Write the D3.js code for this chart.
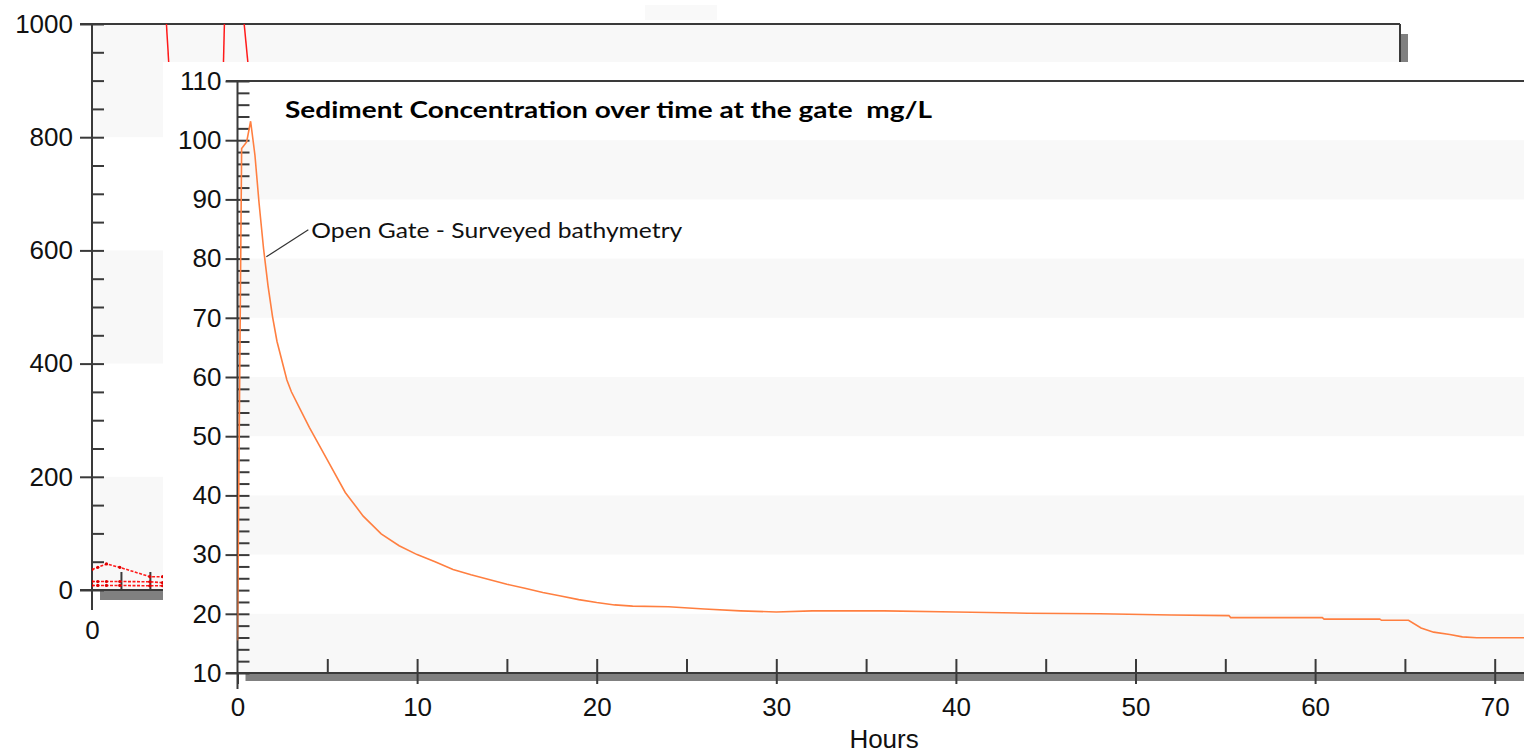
<!DOCTYPE html>
<html>
<head>
<meta charset="utf-8">
<script src="https://cdn.jsdelivr.net/npm/d3@7"></script>
<style>
  body { margin: 0; background: #fff; }
  svg { display: block; }
  .axis-label { font-family: "Liberation Sans", Arial, sans-serif; font-size: 26px; fill: #111; }
  .title { font-family: Lato, "Open Sans", sans-serif; font-weight: bold; font-size: 23px; fill: #000; white-space: pre; }
</style>
</head>
<body>
<div id="chart"></div>
<script>
// front chart: sediment concentration at the gate (mg/L)
const hours = [0, 0.23, 0.51, 0.73, 0.97, 1.2, 1.45, 1.7, 1.95, 2.2, 2.75, 3, 3.5, 4, 5, 6, 7, 8, 9, 10,
  11, 12, 13, 14, 15, 16, 17, 18, 19, 20, 21, 22, 24, 26, 28, 30, 32, 36, 40, 44, 48, 52,
  55.2, 55.3, 60.4, 60.5, 63.6, 63.7, 65.2, 65.9, 66.6, 67.5, 68.2, 69, 72];
const concentration = [15.5, 98.6, 99.7, 103.2, 97.5, 89.4, 81.7, 75.4, 70.2, 66, 59.5, 57.5, 54.5, 51.5, 46, 40.5, 36.5, 33.5, 31.5, 30,
  28.8, 27.5, 26.6, 25.8, 25, 24.3, 23.6, 23, 22.4, 21.9, 21.5, 21.3, 21.2, 20.8, 20.5, 20.3, 20.5, 20.5, 20.3, 20.1, 20.0, 19.8,
  19.7, 19.35, 19.35, 19.1, 19.1, 18.9, 18.9, 17.6, 16.9, 16.5, 16.1, 15.95, 15.95];
const frontYTicks = [10, 20, 30, 40, 50, 60, 70, 80, 90, 100, 110];
const frontXTicks = [0, 10, 20, 30, 40, 50, 60, 70];
const frontBands = [[10, 20], [30, 40], [50, 60], [70, 80], [90, 100]];
const seriesName = "Open Gate - Surveyed bathymetry";
const labelAnchor = [1.55, 80.3];
const titleText = "Sediment Concentration over time at the gate  mg/L";

// background chart (mostly hidden behind the front one)
const bgYTicks = [0, 200, 400, 600, 800, 1000];
const bgXTicks = [0];
const bgBands = [[0, 200], [400, 600], [800, 1000]];
const bgLowHours = [0, 1, 2.5, 4.8, 10, 12.2];
const bgLowUpper = [36, 40, 46, 40, 23.5, 23.5];
const bgLowMiddle = [15, 15, 15, 15, 14.5, 13];
const bgLowBottom = [8, 8, 8, 8, 7.5, 7.5];
const bgSpikes = [
  { hours: [12.8, 13.3], values: [1010, 925] },
  { hours: [22.9, 22.7], values: [1010, 925] },
  { hours: [26.2, 27.0], values: [1010, 925] }
];

const width = 1524, height = 754;
const axisColor = "#3a3a3a", bandColor = "#f8f8f8", shadowColor = "#808080";

const svg = d3.select("#chart").append("svg")
  .attr("width", width).attr("height", height);

function styleLabels(g) {
  g.selectAll("text").attr("class", "axis-label")
    .attr("font-size", null).attr("font-family", null).attr("fill", null);
}

// ---------- background chart ----------
const bg = svg.append("g").attr("class", "background-chart");
const xB = d3.scaleLinear().domain([0, 226]).range([92, 1400]);
const yB = d3.scaleLinear().domain([0, 1000]).range([590, 24]);

bg.append("rect").attr("x", 645).attr("y", 5).attr("width", 72).attr("height", 15).attr("fill", "#f9f9f9");

bg.selectAll(".bg-band").data(bgBands).join("rect")
  .attr("class", "bg-band")
  .attr("x", xB(0)).attr("width", xB.range()[1] - xB(0))
  .attr("y", d => yB(d[1])).attr("height", d => yB(d[0]) - yB(d[1]))
  .attr("fill", bandColor);

// shadows
bg.append("rect").attr("x", xB.range()[1]).attr("y", yB(1000) + 10).attr("width", 8).attr("height", 560).attr("fill", shadowColor);
bg.append("rect").attr("x", xB(0) + 8).attr("y", yB(0)).attr("width", 1300).attr("height", 10).attr("fill", shadowColor);

// frame
bg.append("line").attr("x1", 80).attr("x2", xB.range()[1]).attr("y1", yB(1000)).attr("y2", yB(1000))
  .attr("stroke", axisColor).attr("stroke-width", 2);
bg.append("line").attr("x1", xB.range()[1]).attr("x2", xB.range()[1]).attr("y1", yB(1000)).attr("y2", yB(0))
  .attr("stroke", axisColor).attr("stroke-width", 2);
bg.append("line").attr("x1", 80).attr("x2", xB.range()[1]).attr("y1", yB(0)).attr("y2", yB(0))
  .attr("stroke", axisColor).attr("stroke-width", 2);
bg.append("line").attr("x1", xB(0)).attr("x2", xB(0)).attr("y1", yB(1000)).attr("y2", yB(0) + 20)
  .attr("stroke", axisColor).attr("stroke-width", 2);

// y axis, minor + major
bg.append("g").attr("transform", `translate(${xB(0)},0)`)
  .call(d3.axisRight(yB).tickValues(d3.range(0, 1001, 50)).tickSize(12).tickFormat(""))
  .call(g => g.select(".domain").remove())
  .call(g => g.selectAll("line").attr("stroke", axisColor).attr("stroke-width", 2));
bg.append("g").attr("transform", `translate(${xB(0)},0)`)
  .call(d3.axisLeft(yB).tickValues(bgYTicks).tickSize(12).tickPadding(7).tickFormat(d3.format("d")))
  .call(g => g.select(".domain").remove())
  .call(g => g.selectAll("line").attr("stroke", axisColor).attr("stroke-width", 2))
  .call(styleLabels);

// x axis
bg.append("g").attr("transform", `translate(0,${yB(0)})`)
  .call(d3.axisTop(xB).tickValues(d3.range(5, 226, 5)).tickSize(18).tickFormat(""))
  .call(g => g.select(".domain").remove())
  .call(g => g.selectAll("line").attr("stroke", axisColor).attr("stroke-width", 2));
bg.append("g").attr("transform", `translate(0,${yB(0)})`)
  .call(d3.axisBottom(xB).tickValues(bgXTicks).tickSize(0))
  .call(g => g.select(".domain").remove())
  .call(styleLabels)
  .call(g => g.selectAll("text").attr("y", 49).attr("dy", 0));

// partial title, hidden behind the front panel
bg.append("text").attr("class", "title").attr("x", 283).attr("y", 79.5)
  .attr("textLength", 647).attr("lengthAdjust", "spacingAndGlyphs")
  .text(titleText);

// red series
bg.append("clipPath").attr("id", "bgClip").append("rect")
  .attr("x", xB(0)).attr("y", yB(1000)).attr("width", xB.range()[1] - xB(0)).attr("height", yB(0) - yB(1000));
const bgLine = d3.line().x(d => xB(d[0])).y(d => yB(d[1]));
const bgLow = [
  d3.zip(bgLowHours, bgLowUpper),
  d3.zip(bgLowHours, bgLowMiddle),
  d3.zip(bgLowHours, bgLowBottom)
];
const bgHigh = bgSpikes.map(s => d3.zip(s.hours, s.values));
const bgLines = bg.append("g").attr("clip-path", "url(#bgClip)");
bgLines.selectAll(".low").data(bgLow).join("path")
  .attr("class", "low")
  .attr("d", bgLine).attr("fill", "none").attr("stroke", "#ff1a1a").attr("stroke-width", 1.6)
  .attr("stroke-dasharray", "3,1.5");
bgLines.selectAll(".high").data(bgHigh).join("path")
  .attr("class", "high")
  .attr("d", bgLine).attr("fill", "none").attr("stroke", "#ff1a1a").attr("stroke-width", 1.5);
bgLines.selectAll("circle").data(bgLow.concat(bgHigh).flat()).join("circle")
  .attr("cx", d => xB(d[0])).attr("cy", d => yB(d[1])).attr("r", 1.6).attr("fill", "#e00000");

// ---------- front chart ----------
const fr = svg.append("g").attr("class", "front-chart");
fr.append("rect").attr("x", 163).attr("y", 62).attr("width", width - 163).attr("height", height - 62).attr("fill", "#fff");

const xF = d3.scaleLinear().domain([0, 72]).range([237.5, 237.5 + 72 * 17.96]);
const yF = d3.scaleLinear().domain([10, 110]).range([673, 81]);

fr.selectAll(".band").data(frontBands).join("rect")
  .attr("class", "band")
  .attr("x", xF(0)).attr("width", width - xF(0))
  .attr("y", d => yF(d[1])).attr("height", d => yF(d[0]) - yF(d[1]))
  .attr("fill", bandColor);

// shadow below x axis
fr.append("rect").attr("x", xF(0) + 8).attr("y", yF(10)).attr("width", width).attr("height", 8).attr("fill", shadowColor);

// frame lines
fr.append("line").attr("x1", 226).attr("x2", width).attr("y1", yF(110)).attr("y2", yF(110))
  .attr("stroke", axisColor).attr("stroke-width", 2);
fr.append("line").attr("x1", 226).attr("x2", width).attr("y1", yF(10)).attr("y2", yF(10))
  .attr("stroke", axisColor).attr("stroke-width", 2);
fr.append("line").attr("x1", xF(0)).attr("x2", xF(0)).attr("y1", yF(110)).attr("y2", yF(10) + 16)
  .attr("stroke", axisColor).attr("stroke-width", 2);

// y axis
fr.append("g").attr("transform", `translate(${xF(0)},0)`)
  .call(d3.axisRight(yF).tickValues(d3.range(10, 111, 2)).tickSize(12).tickFormat(""))
  .call(g => g.select(".domain").remove())
  .call(g => g.selectAll("line").attr("stroke", axisColor).attr("stroke-width", 2));
fr.append("g").attr("transform", `translate(${xF(0)},0)`)
  .call(d3.axisLeft(yF).tickValues(frontYTicks).tickSize(12).tickPadding(4))
  .call(g => g.select(".domain").remove())
  .call(g => g.selectAll("line").attr("stroke", axisColor).attr("stroke-width", 2))
  .call(styleLabels);

// x axis
fr.append("g").attr("transform", `translate(0,${yF(10)})`)
  .call(d3.axisTop(xF).tickValues(d3.range(5, 72, 5)).tickSize(14).tickFormat(""))
  .call(g => g.select(".domain").remove())
  .call(g => g.selectAll("line").attr("stroke", axisColor).attr("stroke-width", 2));
fr.append("g").attr("transform", `translate(0,${yF(10)})`)
  .call(d3.axisBottom(xF).tickValues(frontXTicks).tickSize(11))
  .call(g => g.select(".domain").remove())
  .call(g => g.selectAll("line").attr("stroke", axisColor).attr("stroke-width", 2))
  .call(styleLabels)
  .call(g => g.selectAll("text").attr("y", 43).attr("dy", 0));

fr.append("text").attr("class", "axis-label")
  .attr("x", xF(36)).attr("y", 748).attr("text-anchor", "middle")
  .text("Hours");

// title
fr.append("text").attr("class", "title").attr("x", 285).attr("y", 118)
  .attr("textLength", 647).attr("lengthAdjust", "spacingAndGlyphs")
  .text(titleText);

// series line
fr.append("clipPath").attr("id", "frClip").append("rect")
  .attr("x", xF(0)).attr("y", yF(110)).attr("width", width - xF(0)).attr("height", yF(10) - yF(110));
const data = d3.zip(hours, concentration);
const line = d3.line().x(d => xF(d[0])).y(d => yF(d[1]));
fr.append("path").datum(data)
  .attr("clip-path", "url(#frClip)")
  .attr("d", line).attr("fill", "none").attr("stroke", "#ff7f40").attr("stroke-width", 1.6);

// label with leader line
fr.append("line")
  .attr("x1", xF(labelAnchor[0]) + 1).attr("y1", yF(labelAnchor[1]))
  .attr("x2", xF(labelAnchor[0]) + 43).attr("y2", yF(labelAnchor[1]) - 27)
  .attr("stroke", "#333").attr("stroke-width", 1.2);
fr.append("text")
  .attr("x", xF(labelAnchor[0]) + 46).attr("y", yF(labelAnchor[1]) - 19)
  .attr("font-family", "Lato, 'Open Sans', sans-serif").attr("font-size", 22)
  .attr("textLength", 371).attr("lengthAdjust", "spacingAndGlyphs")
  .attr("fill", "#111").text(seriesName);
</script>
</body>
</html>
